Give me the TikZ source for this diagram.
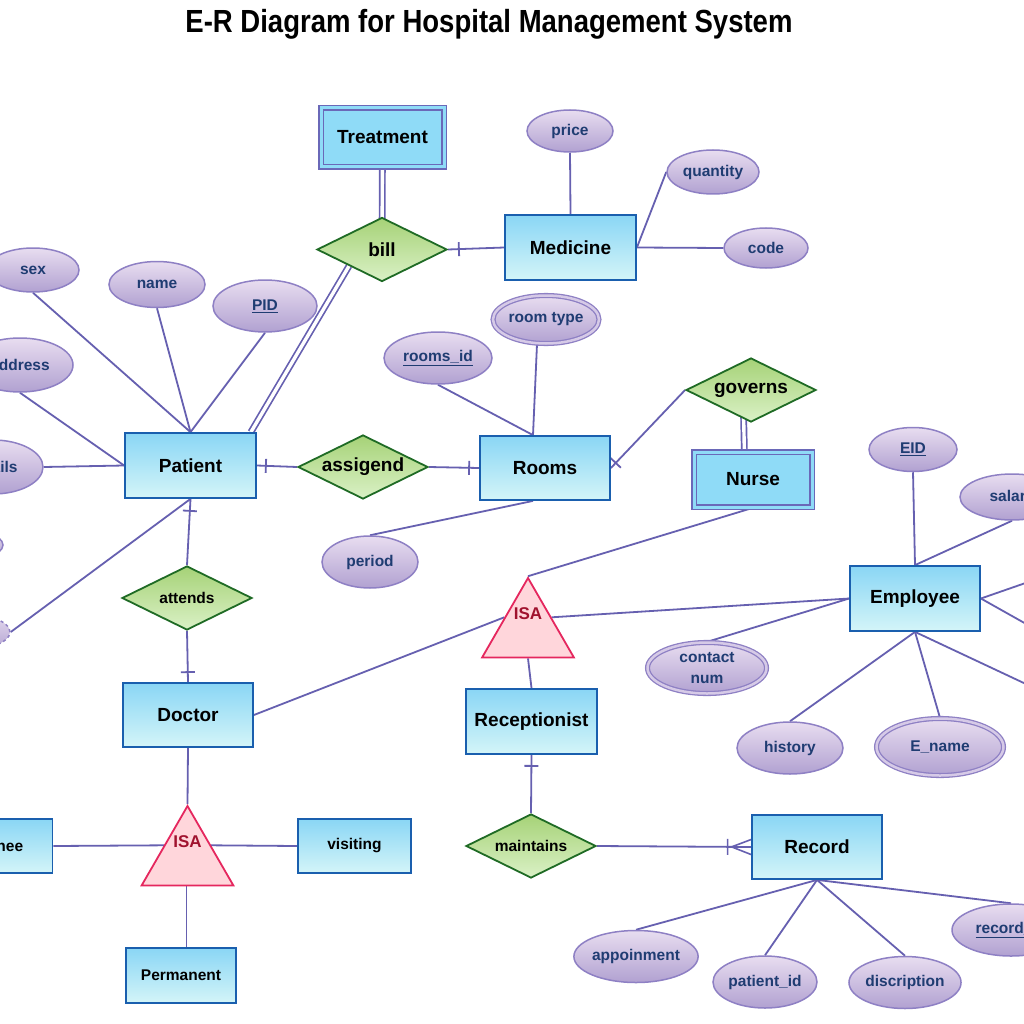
\documentclass[tikz,border=0pt]{standalone}
\usepackage{fontspec}
\setmainfont{Liberation Sans}
\usetikzlibrary{shapes.geometric,calc,decorations.markings,backgrounds}
\definecolor{lnc}{HTML}{6660B0}
\definecolor{entb}{HTML}{1A5FAE}
\definecolor{enttop}{HTML}{8AD6F5}
\definecolor{entbot}{HTML}{D4F5F8}
\definecolor{weakfill}{HTML}{8FDBF7}
\definecolor{weakb}{HTML}{6A68B8}
\definecolor{reltop}{HTML}{A6D277}
\definecolor{relbot}{HTML}{DAF1C6}
\definecolor{relb}{HTML}{1F6B25}
\definecolor{atttop}{HTML}{E8DDF0}
\definecolor{attbot}{HTML}{B1A1D1}
\definecolor{attb}{HTML}{8E80C4}
\definecolor{atttext}{HTML}{1F3C72}
\definecolor{attdbl}{HTML}{D6CAE7}
\definecolor{isafill}{HTML}{FFD6DB}
\definecolor{isab}{HTML}{E5275E}
\definecolor{isatext}{HTML}{A0122E}
\tikzset{
  entity/.style={rectangle, draw=entb, line width=1.8pt, top color=enttop, bottom color=entbot,
    inner sep=0pt, text=black, font=\fontsize{19}{22}\selectfont\bfseries},
  smallent/.style={entity, font=\fontsize{15.5}{18}\selectfont\bfseries},
  weak/.style={rectangle, draw=weakb, line width=1.6pt, double=weakfill, double distance=3pt,
    fill=weakfill, inner sep=0pt, text=black, font=\fontsize{19}{22}\selectfont\bfseries},
  rel/.style={diamond, aspect=2, draw=relb, line width=1.8pt, top color=reltop, bottom color=relbot,
    minimum width=130pt, minimum height=64pt, inner sep=0pt, text=black,
    font=\fontsize{19}{22}\selectfont\bfseries},
  srel/.style={rel, font=\fontsize{15.5}{18}\selectfont\bfseries},
  attr/.style={ellipse, draw=attb, line width=1.5pt, top color=atttop, bottom color=attbot,
    inner sep=0pt, text=atttext, align=center, font=\fontsize{15.5}{21}\selectfont\bfseries},
  mattr/.style={attr, line width=1.3pt, double=attdbl, double distance=2.5pt},
  isa/.style={regular polygon, regular polygon sides=3, minimum size=106pt, draw=isab,
    line width=1.8pt, fill=isafill, inner sep=0pt},
  isalab/.style={text=isatext, font=\fontsize{17}{20}\selectfont\bfseries},
  conn/.style={draw=lnc, line width=1.8pt},
  dconn/.style={draw=lnc, line width=1.7pt, double=white, double distance=3.4pt},
  barat/.style={postaction={decorate, decoration={markings, mark=at position #1 with {\draw[lnc, line width=1.8pt] (0pt,-7pt) -- (0pt,7pt);}}}},
  crowend/.style={postaction={decorate, decoration={markings, mark=at position -0.5pt with {\draw[lnc, line width=1.6pt] (-19pt,0pt) -- (0.5pt,7.5pt) (-19pt,0pt) -- (0.5pt,-7.5pt) (-23pt,-8pt) -- (-23pt,8pt);}}}}
}
\begin{document}
\begin{tikzpicture}[x=1pt,y=-1pt]
\useasboundingbox (0,0) rectangle (1024,1024);
\begin{scope}
\clip (0,0) rectangle (1024,1024);
\node[font=\fontsize{32}{36}\selectfont\bfseries] (title) at (489,24) {\scalebox{0.86}[1]{E-R Diagram for Hospital Management System}};
% entities
\node[weak, minimum width=123pt, minimum height=59pt] (treat) at (382.5,137.5) {Treatment};
\node[entity, minimum width=131pt, minimum height=65pt] (med) at (570.5,247.5) {Medicine};
\node[entity, minimum width=131pt, minimum height=65pt] (pat) at (190.5,465.5) {Patient};
\node[entity, minimum width=130pt, minimum height=64pt] (rooms) at (545,468) {Rooms};
\node[weak, minimum width=118pt, minimum height=55pt] (nurse) at (753,479.5) {Nurse};
\node[entity, minimum width=130pt, minimum height=65pt] (emp) at (915,598.5) {Employee};
\node[entity, minimum width=130pt, minimum height=64pt] (doc) at (188,715) {Doctor};
\node[entity, minimum width=131pt, minimum height=65pt] (recp) at (531.5,721.5) {Receptionist};
\node[entity, minimum width=130pt, minimum height=64pt] (record) at (817,847) {Record};
\node[smallent, minimum width=113pt, minimum height=54pt] (trainee) at (-4,846) {Trainee};
\node[smallent, minimum width=113pt, minimum height=54pt] (visit) at (354.5,846) {visiting};
\node[smallent, minimum width=110pt, minimum height=55pt] (perm) at (181,975.5) {Permanent};
% relationships
\node[rel] (bill) at (382,249.5) {bill};
\node[rel] (assig) at (363,467) {assigend};
\node[rel] (gov) at (751,390) {governs};
\node[srel] (att) at (187,598) {attends};
\node[srel] (maint) at (531,846) {maintains};
% ISA
\node[isa, label={[isalab, yshift=17pt]center:ISA}] (isa1) at (528,631) {};
\node[isa, label={[isalab, yshift=17pt]center:ISA}] (isa2) at (187.5,859) {};
% attributes
\node[attr, minimum width=86pt, minimum height=42pt] (price) at (570,131) {price};
\node[attr, minimum width=92pt, minimum height=44pt] (qty) at (713,172) {quantity};
\node[attr, minimum width=84pt, minimum height=40pt] (code) at (766,248) {code};
\node[attr, minimum width=92pt, minimum height=44pt] (sex) at (33,270) {sex};
\node[attr, minimum width=96pt, minimum height=46pt] (name) at (157,284.5) {name};
\node[attr, minimum width=104pt, minimum height=52pt] (pid) at (265,306) {\underline{PID}};
\node[attr, minimum width=106pt, minimum height=54pt] (addr) at (20,365) {address};
\node[attr, minimum width=100pt, minimum height=54pt] (details) at (-7,467) {details};
\node[attr, minimum width=106pt, minimum height=36pt] (hidden) at (-50,545) {};
\node[attr, dashed, minimum width=112pt, minimum height=40pt] (derived) at (-46,632) {};
\node[attr, minimum width=108pt, minimum height=52pt] (roomsid) at (438,358) {\underline{rooms\_id}};
\node[mattr, minimum width=103pt, minimum height=48pt] (roomtype) at (546,319.5) {room type};
\node[attr, minimum width=96pt, minimum height=52pt] (period) at (370,562) {period};
\node[attr, minimum width=88pt, minimum height=44pt] (eid) at (913,449.5) {\underline{EID}};
\node[attr, minimum width=104pt, minimum height=46pt] (salary) at (1012,497) {salary};
\node[mattr, minimum width=119pt, minimum height=51pt] (contact) at (707,668) {contact\\num};
\node[attr, minimum width=106pt, minimum height=52pt] (history) at (790,748) {history};
\node[mattr, minimum width=127pt, minimum height=57pt] (ename) at (940,747) {E\_name};
\node[attr, minimum width=120pt, minimum height=52pt] (appoin) at (636,956.5) {appoinment};
\node[attr, minimum width=104pt, minimum height=52pt] (patid) at (765,982) {patient\_id};
\node[attr, minimum width=112pt, minimum height=52pt] (discr) at (905,982.5) {discription};
\node[attr, minimum width=118pt, minimum height=52pt] (recid) at (1011,930) {\underline{record\_id}};
\coordinate (off1) at (1060,571);
\coordinate (off2) at (1060,643);
\coordinate (off3) at (1060,700);
\end{scope}
\begin{pgfonlayer}{background}
\fill[white] (0,0) rectangle (1024,1024);
\clip (0,0) rectangle (1024,1024);
% Treatment / bill / Medicine
\draw[dconn] (treat.center) -- (bill.center);
\draw[dconn] ([xshift=-6pt]pat.north east) -- (bill.south west);
\draw[conn, barat=11pt] (bill.east) -- (med.west);
\draw[conn] (med.north) -- (price.south);
\draw[conn] (qty.west) -- (med.east);
\draw[conn] (med.east) -- (code.west);
% Patient attributes
\draw[conn] (sex.south) -- (pat.north);
\draw[conn] (name.south) -- (pat.north);
\draw[conn] (pid.south) -- (pat.north);
\draw[conn] (addr.south) -- (pat.west);
\draw[conn] (details.east) -- (pat.west);
\draw[conn] (derived.east) -- (pat.south);
% Patient - assigend - Rooms
\draw[conn, barat=9pt] (pat.east) -- (assig.west);
\draw[conn, barat=-10pt] (assig.east) -- (rooms.west);
\draw[conn] (roomsid.south) -- ([xshift=-12pt]rooms.north);
\draw[conn] ([xshift=-9pt]roomtype.south) -- ([xshift=-12pt]rooms.north);
\draw[conn] (period.north) -- ([xshift=-12pt]rooms.south);
\draw[conn, barat=-7pt] (gov.west) -- (rooms.east);
\draw[dconn] ([xshift=-8pt]gov.center) -- ([xshift=-8pt]nurse.center);
% Nurse / ISA / Employee
\draw[conn] (nurse.south) -- (isa1.corner 1);
\draw[conn] (emp.west) -- ($(isa1.corner 1)!0.5!(isa1.corner 3)$);
\draw[conn] (doc.east) -- ($(isa1.corner 1)!0.5!(isa1.corner 2)$);
\draw[conn] (isa1.south) -- (recp.north);
\draw[conn] (emp.north) -- (eid.south);
\draw[conn] (salary.south) -- (emp.north);
\draw[conn] (contact.north) -- (emp.west);
\draw[conn] (history.north) -- (emp.south);
\draw[conn] (ename.north) -- (emp.south);
\draw[conn] (emp.east) -- (off1);
\draw[conn] (emp.east) -- (off2);
\draw[conn] (emp.south) -- (off3);
% Patient - attends - Doctor
\draw[conn, barat=12pt] (pat.south) -- (att.north);
\draw[conn, barat=-10pt] (att.south) -- (doc.north);
\draw[conn] (doc.south) -- (isa2.corner 1);
\draw[conn] (trainee.east) -- ($(isa2.corner 1)!0.5!(isa2.corner 2)$);
\draw[conn] ($(isa2.corner 1)!0.5!(isa2.corner 3)$) -- (visit.west);
\draw[conn] ([xshift=-1pt]isa2.south) -- ([xshift=-1pt]isa2.south |- perm.north);
% Receptionist - maintains - Record
\draw[conn, barat=11pt] (recp.south) -- (maint.north);
\draw[conn, crowend] (maint.east) -- (record.west);
\draw[conn] (record.south) -- (appoin.north);
\draw[conn] (record.south) -- (patid.north);
\draw[conn] (record.south) -- (discr.north);
\draw[conn] (record.south) -- (recid.north);
\end{pgfonlayer}
\end{tikzpicture}
\end{document}
